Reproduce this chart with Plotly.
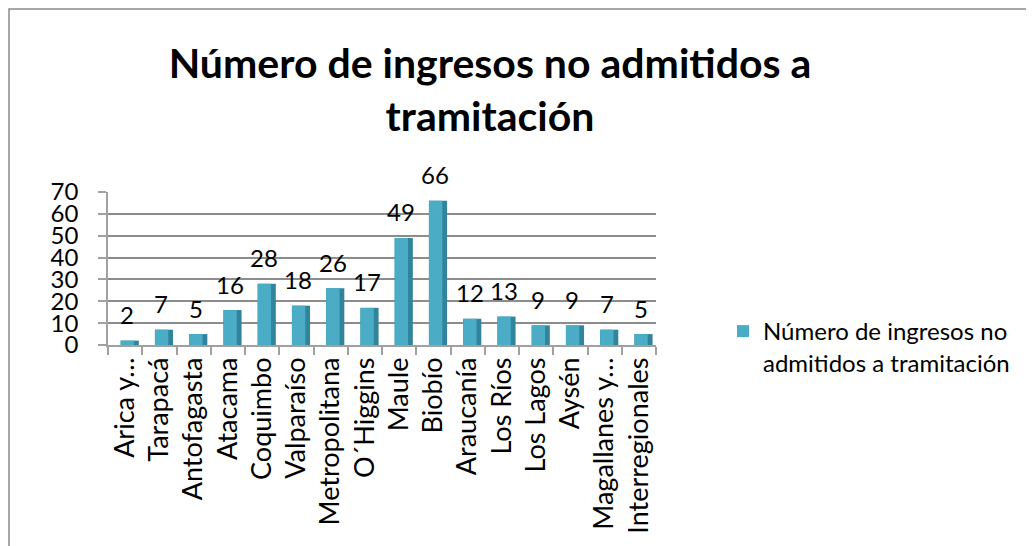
import plotly.graph_objects as go

categories = ["Arica y…", "Tarapacá", "Antofagasta", "Atacama", "Coquimbo", "Valparaíso",
              "Metropolitana", "O´Higgins", "Maule", "Biobío", "Araucanía", "Los Ríos",
              "Los Lagos", "Aysén", "Magallanes y…", "Interregionales"]
values = [2, 7, 5, 16, 28, 18, 26, 17, 49, 66, 12, 13, 9, 9, 7, 5]
y_ticks = [0, 10, 20, 30, 40, 50, 60, 70]
legend_label = "Número de ingresos no<br>admitidos a tramitación"
title_text = "<b>Número de ingresos no admitidos a<br>tramitación</b>"

FONT = "Lato"
OFF = 8  # browser body margin
W, H = 1034, 546
# target positions in screenshot pixels
X0, X1, Y0, Y70 = 108, 656, 345, 192
L, R, T, B = X0 - OFF, W - (X1 - OFF), Y70 - OFF, H - (Y0 - OFF)
pw, ph = W - L - R, H - T - B

def px_x(p):
    return (p - OFF - L) / pw

def px_y(p):
    return (H - B - (p - OFF)) / ph

fig = go.Figure()
fig.add_trace(go.Bar(x=categories, y=values, width=0.53, offset=-0.13,
                     marker=dict(color="#31849B", line=dict(width=0)),
                     showlegend=False, hoverinfo="skip"))
fig.add_trace(go.Bar(x=categories, y=values, width=0.39, offset=-0.13,
                     marker=dict(color="#4BACC6", line=dict(width=0)),
                     name=legend_label))

for c, v in zip(categories, values):
    fig.add_annotation(x=c, y=v, text=str(v), showarrow=False, xref="x", yref="y",
                       yanchor="middle", yshift=26, xshift=2,
                       font=dict(family=FONT, size=24, color="black"))

fig.add_shape(type="rect", xref="paper", yref="paper",
              x0=px_x(9), x1=px_x(1050), y0=px_y(560), y1=px_y(9),
              line=dict(color="#8a8a8a", width=1.5), layer="below")

fig.update_layout(
    width=W, height=H,
    margin=dict(l=L, r=R, t=T, b=B, autoexpand=False),
    paper_bgcolor="white", plot_bgcolor="white",
    barmode="overlay",
    font=dict(family=FONT, color="black"),
    title=dict(text=title_text,
               x=(490 - OFF) / W, xanchor="center", y=1 - (77.5 - OFF) / H, yanchor="middle",
               yref="container", xref="container",
               font=dict(family=FONT, size=41, color="black")),
    showlegend=True,
    legend=dict(x=px_x(723), y=px_y(309), xanchor="left", yanchor="top",
                valign="top", font=dict(family=FONT, size=24, color="black"),
                bgcolor="rgba(0,0,0,0)", tracegroupgap=0),
    xaxis=dict(type="category", showgrid=False, showline=True, linecolor="#a0a0a0", linewidth=1.5,
               ticks="outside", tickson="boundaries", ticklen=8, tickcolor="#a0a0a0", tickwidth=1.5,
               tickangle=-90, tickfont=dict(family=FONT, size=27, color="black"),
               range=[-0.5, len(categories) - 0.5]),
    yaxis=dict(range=[0, 70], tickvals=y_ticks, showgrid=True, gridcolor="#8c8c8c", gridwidth=1.5,
               showline=True, linecolor="#a0a0a0", linewidth=1.5, zeroline=False,
               ticks="outside", ticklen=8, tickcolor="#a0a0a0", tickwidth=1.5,
               ticklabelstandoff=15, tickfont=dict(family=FONT, size=24, color="black")),
)

fig.write_html("out.html")
